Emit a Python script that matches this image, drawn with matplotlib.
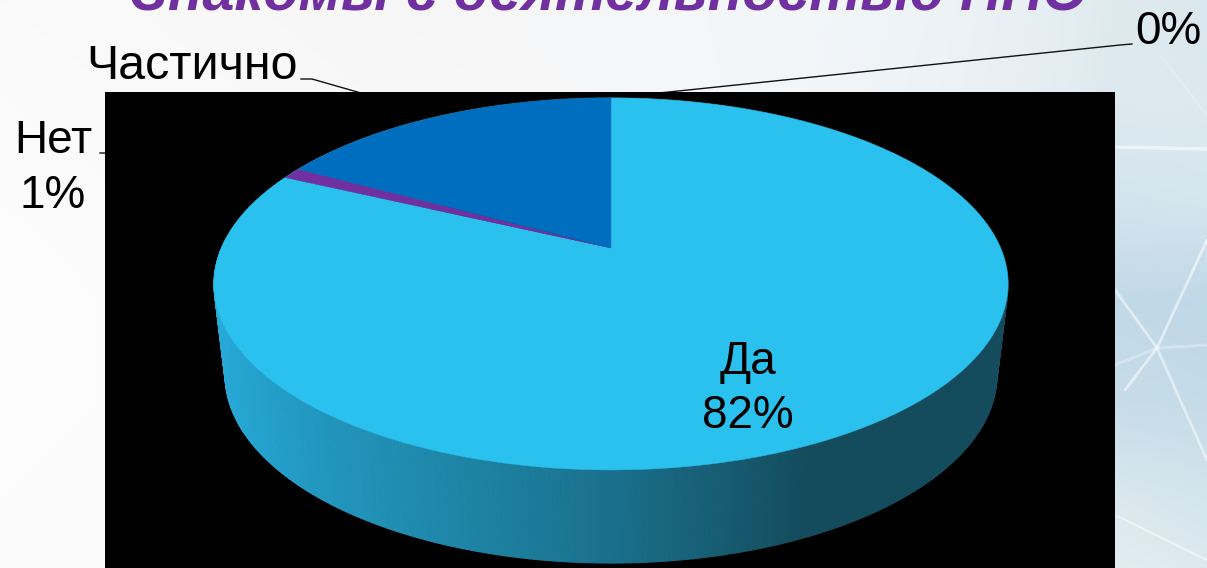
import numpy as np
import matplotlib
matplotlib.use("Agg")
import matplotlib.pyplot as plt
from matplotlib.collections import PolyCollection
from matplotlib.colors import to_rgb

plt.rcParams["font.family"] = ["Liberation Sans", "DejaVu Sans"]

# pie data, clockwise from 12 o'clock
categories = ["Да", "Нет", "Частично", "Другое"]
values = [82, 1, 17, 0]
wedge_colors = ["#2AC1EE", "#7030A0", "#006EBE", "#1F4E79"]

title = "Знакомы с деятельностью НПО"

W, H = 1207, 568
cx = 611
k = 0.1935  # perspective of the tilted disc


def rim(theta, a, b, y0):
    # circle point -> screen pixel, theta clockwise from the top
    u = np.sin(theta)
    v = np.cos(theta)
    w = 1 + k * v
    return cx + a * u / w, y0 - b * v / w


def top_rim(theta):
    return rim(theta, 389.5, 179.0, 248.0)


def bottom_rim(theta):
    return rim(theta, 378.5, 181.0, 338.6)


fig = plt.figure(figsize=(W / 100, H / 100), dpi=100)
ax = fig.add_axes([0, 0, 1, 1])
ax.set_xlim(0, W)
ax.set_ylim(H, 0)
ax.axis("off")

# slide background, pale towards the right
bg_x = [0, 500, 800, 1000, 1115, 1207]
bg_y = [0, 100, 200, 300, 400, 500, 568]
bg_rows = [
    ["#FAFAFA", "#F6F6F7", "#F3F7FA", "#EAF1F5", "#DFEAEF", "#D9E8EE"],
    ["#FBFBFB", "#F7F7F7", "#F3F6F9", "#E9F0F5", "#DDE9EF", "#DCEAEF"],
    ["#FCFCFC", "#F8F8F8", "#F2F5F8", "#E4EDF3", "#D4E4EE", "#D6E6EE"],
    ["#FDFDFD", "#F8F8F8", "#F0F4F7", "#DCE8F0", "#C2D9E8", "#BFD8E7"],
    ["#FDFDFD", "#F8F8F8", "#F0F4F7", "#DCE8F0", "#C6DCE9", "#C4DBE8"],
    ["#FCFCFC", "#F8F8F8", "#F2F5F8", "#E3EDF2", "#DBE8EE", "#D4E5EC"],
    ["#FCFCFC", "#F8F8F8", "#F3F6F8", "#E8F0F4", "#E2EDF2", "#DCEAF0"],
]
grid = np.array([[to_rgb(c) for c in row] for row in bg_rows])
xs = np.arange(W)
ys = np.arange(H)
across = np.array([[np.interp(xs, bg_x, grid[r, :, c]) for c in range(3)] for r in range(len(bg_y))])
bg = np.zeros((H, W, 3))
for c in range(3):
    for i in range(W):
        bg[:, i, c] = np.interp(ys, bg_y, across[:, c, i])
ax.imshow(bg, extent=(0, W, H, 0), aspect="auto", zorder=0, interpolation="bilinear")

# faint crystal lines in the background
for lx, ly, lw, la in [
    ([1115, 1207], [147, 149], 2.5, 0.55),
    ([1115, 1157, 1207], [365, 348, 345], 2, 0.3),
    ([1115, 1157, 1207], [290, 348, 460], 2, 0.5),
    ([1125, 1157, 1207], [390, 348, 240], 2, 0.55),
    ([1115, 1207], [515, 560], 1.5, 0.5),
    ([1160, 1207], [55, 115], 1.5, 0.2),
]:
    ax.plot(lx, ly, color="white", lw=lw, alpha=la, zorder=1, solid_capstyle="round")

ax.text(609, 10, title, color="#7030A0", fontsize=41.3, fontweight="bold",
        fontstyle="italic", ha="center", va="baseline", zorder=2, clip_on=True)

# leader lines, the black area hides their inner part
edges = np.cumsum([0] + values) / sum(values) * 2 * np.pi
mids = (edges[:-1] + edges[1:]) / 2
for i, elbow in [(1, [(100, 153), (107, 153)]),
                 (2, [(301, 79), (312, 79)]),
                 (3, [(1132, 44), (1120, 45)])]:
    px, py = top_rim(mids[i])
    ax.plot([e[0] for e in elbow] + [px], [e[1] for e in elbow] + [py],
            color="#111111", lw=1, zorder=1.5)

# chart area is filled black in the picture
ax.fill([105, 1115, 1115, 105], [92, 92, H, H], color="black", lw=0, zorder=2)

# side of the disc, shaded left to right
side_x = [225, 330, 470, 611, 720, 800, 1000]
side_c = ["#27A9D6", "#2296BE", "#1E84A5", "#1A708C", "#175C72", "#144C5E", "#144C5E"]
side_rgb = np.array([to_rgb(c) for c in side_c])
t = np.linspace(0, 2 * np.pi, 721)
tx, ty = top_rim(t)
bx, by = bottom_rim(t)
quads, cols = [], []
for i in range(len(t) - 1):
    quads.append([(tx[i], ty[i]), (tx[i + 1], ty[i + 1]), (bx[i + 1], by[i + 1]), (bx[i], by[i])])
    mid = (bx[i] + bx[i + 1]) / 2
    cols.append([np.interp(mid, side_x, side_rgb[:, c]) for c in range(3)])
ax.add_collection(PolyCollection(quads, facecolors=cols, edgecolors=cols, linewidths=0.8, zorder=3))

# top face wedges from the values
for v, c, a0, a1 in zip(values, wedge_colors, edges[:-1], edges[1:]):
    if v == 0:
        continue
    th = np.linspace(a0, a1, max(int(v * 8), 8))
    wx, wy = top_rim(th)
    ax.fill(np.r_[cx, wx], np.r_[248.0, wy], color=c, lw=0.3, zorder=4)

fs = 33
ax.text(748, 374, categories[0], fontsize=fs, ha="center", va="baseline", color="black", zorder=6)
ax.text(748, 428, f"{values[0]}%", fontsize=fs, ha="center", va="baseline", color="black", zorder=6)
ax.text(53, 153, categories[1], fontsize=fs, ha="center", va="baseline", color="black", zorder=6)
ax.text(53, 208, f"{values[1]}%", fontsize=fs, ha="center", va="baseline", color="black", zorder=6)
ax.text(191.5, 79, categories[2], fontsize=34.8, ha="center", va="baseline", color="black", zorder=6)
ax.text(1168, 44, f"{values[3]}%", fontsize=fs, ha="center", va="baseline", color="black", zorder=6)

fig.savefig("out.png", dpi=100)
plt.close(fig)
